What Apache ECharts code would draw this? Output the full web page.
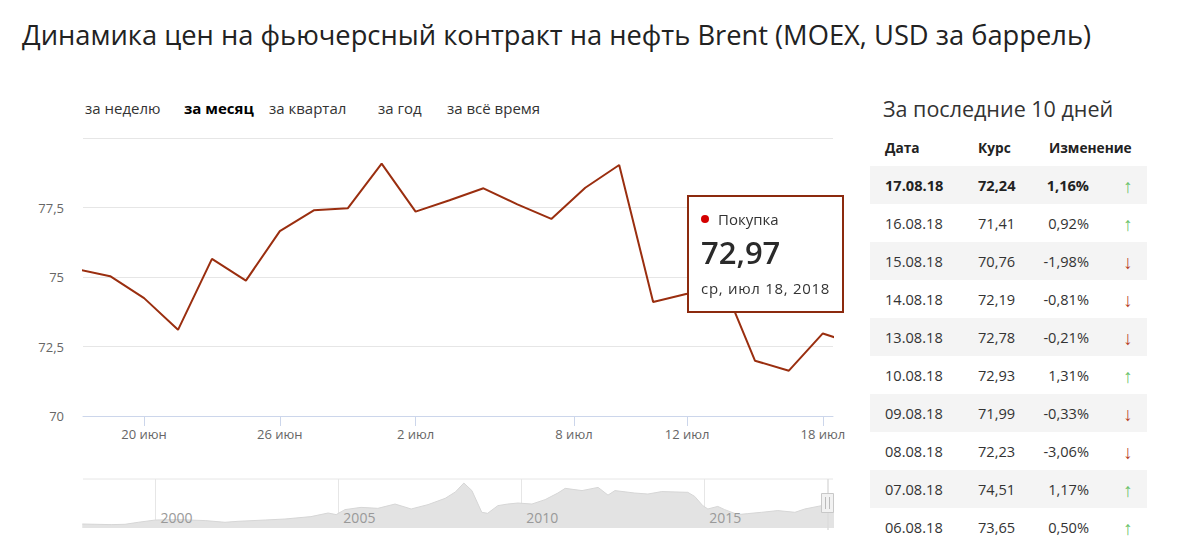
<!DOCTYPE html>
<html>
<head>
<meta charset="utf-8">
<script src="https://cdn.jsdelivr.net/npm/echarts@6/dist/echarts.min.js"></script>
<style>
  html, body { margin: 0; padding: 0; background: #fff; }
  #chart { width: 1185px; height: 558px; }
</style>
</head>
<body>
<div id="chart"></div>
<script>
// ---------- DATA ----------
const chartTitle = 'Динамика цен на фьючерсный контракт на нефть Brent (MOEX, USD за баррель)';
const periodTabs = ['за неделю', 'за месяц', 'за квартал', 'за год', 'за всё время'];
const activeTab = 1;

const seriesName = 'Покупка';
const tradeDates = ['2018-06-18','2018-06-19','2018-06-20','2018-06-21','2018-06-22',
  '2018-06-25','2018-06-26','2018-06-27','2018-06-28','2018-06-29',
  '2018-07-02','2018-07-03','2018-07-04','2018-07-05','2018-07-06',
  '2018-07-09','2018-07-10','2018-07-11','2018-07-12','2018-07-13',
  '2018-07-16','2018-07-17','2018-07-18','2018-07-19'];
const prices = [75.29, 75.03, 74.24, 73.10, 75.65,
  74.87, 76.65, 77.40, 77.47, 79.08,
  77.35, 77.76, 78.19, 77.61, 77.09,
  78.21, 79.03, 74.10, 74.40, 74.94,
  71.99, 71.63, 72.97, 72.57];
const tooltipDate = '2018-07-18';

const tickDates = ['2018-06-20','2018-06-26','2018-07-02','2018-07-08','2018-07-12','2018-07-18'];
const monthShort = ['янв','фев','мар','апр','май','июн','июл','авг','сен','окт','ноя','дек'];
const weekdayShort = ['вс','пн','вт','ср','чт','пт','сб'];
const yTicks = [70, 72.5, 75, 77.5, 80];

// navigator (full history)
const navYears = [1998.0, 1998.79, 1999.17, 1999.53, 2000.0, 2000.62, 2001.36, 2001.9, 2002.26, 2003.0,
  2003.54, 2004.25, 2004.72, 2004.94, 2005.18, 2005.62, 2006.08, 2006.55, 2006.99, 2007.45,
  2007.92, 2008.2, 2008.43, 2008.65, 2008.92, 2009.08, 2009.36, 2009.63, 2009.91, 2010.29,
  2010.65, 2011.0, 2011.2, 2011.66, 2012.1, 2012.37, 2012.56, 2013.1, 2013.46, 2013.84,
  2014.55, 2014.74, 2014.96, 2015.1, 2015.37, 2015.56, 2015.92, 2016.19, 2016.57, 2017.01,
  2017.48, 2017.75, 2018.21, 2018.55];
const navPrices = [12.4, 10.5, 11.5, 17.7, 24.8, 26.0, 23.0, 17.7, 20.8, 24.8,
  27.9, 35.3, 46.5, 41.5, 57.0, 64.0, 61.0, 74.4, 59.0, 72.5,
  92.0, 112.0, 139.5, 116.0, 48.7, 45.6, 69.4, 74.4, 77.5, 74.4,
  88.0, 108.5, 123.0, 116.0, 126.0, 102.0, 116.0, 108.5, 105.4, 113.0,
  110.7, 98.0, 69.4, 59.0, 67.0, 57.0, 41.5, 44.6, 48.7, 54.0,
  48.7, 59.0, 69.4, 72.0];
const navYearLabels = [2000, 2005, 2010, 2015];

const sideTitle = 'За последние 10 дней';
const tableHeaders = ['Дата', 'Курс', 'Изменение'];
const tableDates = ['17.08.18','16.08.18','15.08.18','14.08.18','13.08.18','10.08.18','09.08.18','08.08.18','07.08.18','06.08.18'];
const tableRates = [72.24, 71.41, 70.76, 72.19, 72.78, 72.93, 71.99, 72.23, 74.51, 73.65];
const tableChanges = [1.16, 0.92, -1.98, -0.81, -0.21, 1.31, -0.33, -3.06, 1.17, 0.50];

// ---------- HELPERS ----------
const FONT = "'Open Sans', 'Noto Sans', sans-serif";
const LINE_COLOR = '#8c2a0e';
const fmtNum = v => v.toFixed(2).replace('.', ',');
const ms = s => Date.parse(s + 'T00:00:00Z');
const tradeMs = tradeDates.map(ms);
function ordinalPos(dateStr) {
  const t = ms(dateStr);
  for (let i = 0; i < tradeMs.length - 1; i++) {
    if (t >= tradeMs[i] && t <= tradeMs[i + 1]) {
      return i + (t - tradeMs[i]) / (tradeMs[i + 1] - tradeMs[i]);
    }
  }
  return tradeMs.length - 1;
}
const tickPos = tickDates.map(ordinalPos);
const tickLabels = tickDates.map(s => {
  const d = new Date(ms(s));
  return d.getUTCDate() + ' ' + monthShort[d.getUTCMonth()];
});
const lineData = prices.map((v, i) => [i, v]);
const navData = navYears.map((y, i) => [y, navPrices[i]]);
const tipIndex = tradeDates.indexOf(tooltipDate);

function fmtTipDate(s) {
  const d = new Date(ms(s));
  return weekdayShort[d.getUTCDay()] + ', ' + monthShort[d.getUTCMonth()] + ' ' + d.getUTCDate() + ', ' + d.getUTCFullYear();
}

// ---------- GRAPHICS: tabs + table ----------
const graphics = [];
const tabX = [85, 184, 269, 378, 447];
periodTabs.forEach((t, i) => {
  graphics.push({
    type: 'text', x: tabX[i], y: 108, silent: true,
    style: { text: t, font: (i === activeTab ? 'bold ' : '') + '15px ' + FONT,
      fill: i === activeTab ? '#000' : '#333', textAlign: 'left', textVerticalAlign: 'middle' }
  });
});
graphics.push({
  type: 'text', x: 883, y: 108, silent: true,
  style: { text: sideTitle, font: '21.5px ' + FONT, fill: '#333', textAlign: 'left', textVerticalAlign: 'middle' }
});
const colX = [885, 978, 1049];
tableHeaders.forEach((h, i) => {
  graphics.push({
    type: 'text', x: colX[i], y: 147, silent: true,
    style: { text: h, font: 'bold 13.7px ' + FONT, fill: '#222', textAlign: 'left', textVerticalAlign: 'middle' }
  });
});
tableDates.forEach((d, r) => {
  const top = 166 + r * 38, cy = top + 19;
  if (r % 2 === 0) {
    graphics.push({ type: 'rect', silent: true, shape: { x: 870, y: top, width: 277, height: 38 },
      style: { fill: '#f4f4f4' } });
  }
  const f = (r === 0 ? 'bold ' : '') + '14.6px ' + FONT;
  const col = r === 0 ? '#222' : '#333';
  graphics.push({ type: 'text', x: 885, y: cy, silent: true,
    style: { text: d, font: f, fill: col, textAlign: 'left', textVerticalAlign: 'middle' } });
  graphics.push({ type: 'text', x: 978, y: cy, silent: true,
    style: { text: fmtNum(tableRates[r]), font: f, fill: col, textAlign: 'left', textVerticalAlign: 'middle' } });
  graphics.push({ type: 'text', x: 1089, y: cy, silent: true,
    style: { text: fmtNum(tableChanges[r]) + '%', font: f, fill: col, textAlign: 'right', textVerticalAlign: 'middle' } });
  const up = tableChanges[r] >= 0;
  graphics.push({ type: 'text', x: 1128, y: cy + 1, silent: true,
    style: { text: up ? '↑' : '↓', font: '19px ' + FONT, fill: up ? '#6cc36c' : '#b8432a',
      textAlign: 'center', textVerticalAlign: 'middle' } });
});
// navigator decorations
graphics.push({ type: 'line', silent: true, shape: { x1: 83, y1: 479, x2: 833, y2: 479 },
  style: { stroke: '#e6e6e6', lineWidth: 1 } });
graphics.push({ type: 'line', silent: true, z: 10, shape: { x1: 828, y1: 479, x2: 828, y2: 530 },
  style: { stroke: '#dcdcdc', lineWidth: 1.5 } });
graphics.push({ type: 'rect', silent: true, z: 11, shape: { x: 821.5, y: 493.5, width: 12, height: 19 },
  style: { fill: '#f2f2f2', stroke: '#c8c8c8', lineWidth: 1 } });
graphics.push({ type: 'line', silent: true, z: 12, shape: { x1: 825.5, y1: 497, x2: 825.5, y2: 509 },
  style: { stroke: '#bbb', lineWidth: 1 } });
graphics.push({ type: 'line', silent: true, z: 12, shape: { x1: 829.5, y1: 497, x2: 829.5, y2: 509 },
  style: { stroke: '#bbb', lineWidth: 1 } });

// ---------- CHART ----------
const chart = echarts.init(document.getElementById('chart'), null, { renderer: 'svg', width: 1185, height: 558 });
const option = {
  animation: false,
  backgroundColor: '#fff',
  title: {
    text: chartTitle, left: 22, top: 21, padding: 0,
    textStyle: { fontFamily: FONT, fontSize: 27.3, fontWeight: 'normal', color: '#222' }
  },
  grid: [
    { left: 83, top: 138, width: 750, height: 278 },
    { left: 83, top: 479, width: 750, height: 49 }
  ],
  xAxis: [
    {
      type: 'value', gridIndex: 0, min: 0.2, max: 22.3,
      axisLine: { show: true, lineStyle: { color: '#ccd6eb', width: 1 } },
      axisTick: { show: true, length: 10, customValues: tickPos, lineStyle: { color: '#ccd6eb' } },
      axisLabel: {
        customValues: tickPos, margin: 11, color: '#666', fontSize: 13, fontFamily: FONT,
        formatter: v => {
          const k = tickPos.findIndex(p => Math.abs(p - v) < 1e-6);
          return k >= 0 ? tickLabels[k] : '';
        }
      },
      splitLine: { show: false }
    },
    {
      // navigator grid lines (below the area)
      type: 'value', gridIndex: 1, position: 'bottom', min: 1998.02, max: 2018.52,
      axisLine: { show: false },
      axisTick: { show: false, customValues: navYearLabels },
      axisLabel: { show: false },
      splitLine: { show: true, lineStyle: { color: '#e6e6e6', width: 1 } }
    },
    {
      // navigator year labels (above the area)
      type: 'value', gridIndex: 1, position: 'bottom', min: 1998.02, max: 2018.52, z: 5,
      axisLine: { show: false },
      axisTick: { show: false, customValues: navYearLabels },
      axisLabel: {
        inside: true, customValues: navYearLabels, margin: 4, color: '#999', fontSize: 14,
        fontFamily: FONT, align: 'left', padding: [0, 0, 0, 5], formatter: v => String(v)
      },
      splitLine: { show: false }
    }
  ],
  yAxis: [
    {
      type: 'value', gridIndex: 0, min: 70, max: 80, interval: 2.5,
      axisLine: { show: false }, axisTick: { show: false },
      axisLabel: {
        margin: 19, color: '#666', fontSize: 13, fontFamily: FONT,
        formatter: v => (v === yTicks[yTicks.length - 1] ? '' : String(v).replace('.', ','))
      },
      splitLine: { show: true, lineStyle: { color: '#e6e6e6', width: 1 } }
    },
    {
      type: 'value', gridIndex: 1, min: 0, max: 152, show: false
    }
  ],
  tooltip: {
    trigger: 'axis',
    triggerOn: 'none',
    alwaysShowContent: true,
    transitionDuration: 0,
    axisPointer: { type: 'none' },
    padding: 0,
    borderWidth: 2,
    borderColor: LINE_COLOR,
    borderRadius: 0,
    backgroundColor: '#fff',
    extraCssText: 'box-shadow:none;border-radius:0;',
    position: () => [687, 195],
    formatter: params => {
      const p = Array.isArray(params) ? params.find(q => q.seriesIndex === 0) || params[0] : params;
      const idx = p.dataIndex;
      return '<div style="position:relative;width:153px;height:114px;font-family:' + FONT.replace(/'/g, '&quot;') + ';color:#333;">' +
        '<span style="position:absolute;left:12px;top:18px;width:8px;height:8px;border-radius:50%;background:#d40000;"></span>' +
        '<span style="position:absolute;left:29px;top:11px;font-size:15px;line-height:22px;">' + seriesName + '</span>' +
        '<span style="position:absolute;left:12px;top:36px;font-size:31px;line-height:38px;font-weight:600;color:#2a2a2a;">' + fmtNum(prices[idx]) + '</span>' +
        '<span style="position:absolute;left:12px;top:80px;font-size:15px;line-height:22px;letter-spacing:0.7px;white-space:nowrap;">' + fmtTipDate(tradeDates[idx]) + '</span>' +
        '</div>';
    }
  },
  series: [
    {
      name: seriesName, type: 'line', xAxisIndex: 0, yAxisIndex: 0,
      data: lineData, showSymbol: false, symbol: 'none',
      lineStyle: { color: LINE_COLOR, width: 2 }, itemStyle: { color: LINE_COLOR },
      clip: true, z: 3
    },
    {
      name: 'history', type: 'line', xAxisIndex: 1, yAxisIndex: 1,
      data: navData, showSymbol: false, symbol: 'none', silent: true,
      lineStyle: { color: '#d6d6d6', width: 1 },
      areaStyle: { color: '#e3e3e3', opacity: 1 },
      tooltip: { show: false }
    }
  ],
  graphic: graphics
};
chart.setOption(option);
chart.dispatchAction({ type: 'showTip', seriesIndex: 0, dataIndex: tipIndex });
</script>
</body>
</html>
